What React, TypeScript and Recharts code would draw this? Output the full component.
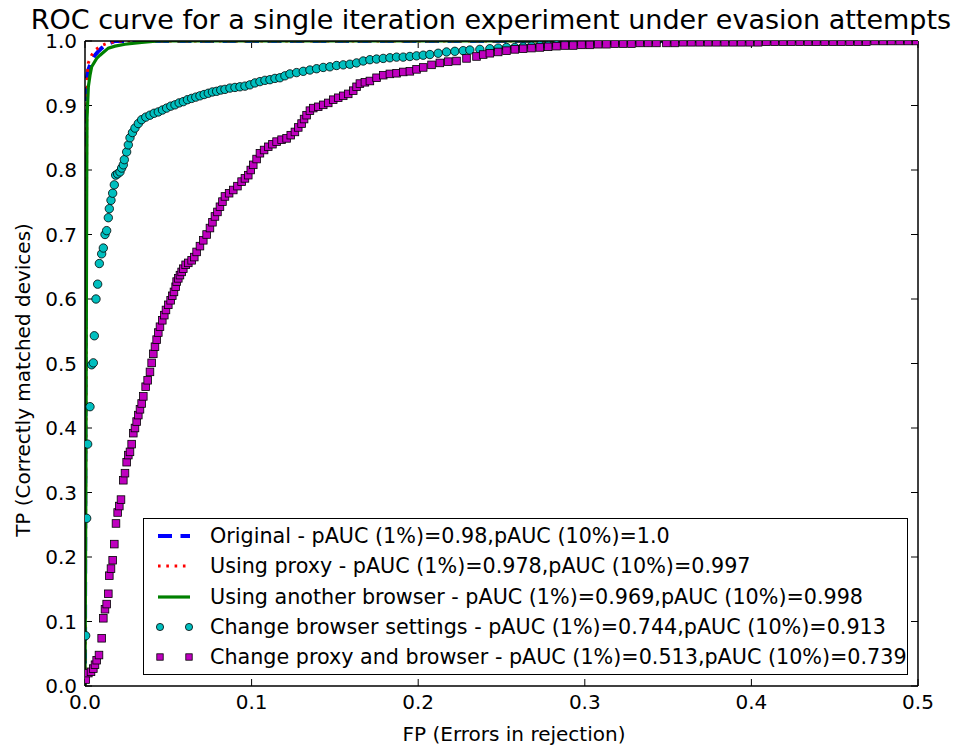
import React from 'react';
import { ComposedChart, Line, Scatter, XAxis, YAxis, CartesianGrid, ReferenceLine } from 'recharts';

const FONT = '"DejaVu Sans", sans-serif';

const titleText = 'ROC curve for a single iteration experiment under evasion attempts';
const xLabelText = 'FP (Errors in rejection)';
const yLabelText = 'TP (Correctly matched devices)';

const xTicks = [0, 0.1, 0.2, 0.3, 0.4, 0.5];
const yTicks = [0, 0.1, 0.2, 0.3, 0.4, 0.5, 0.6, 0.7, 0.8, 0.9, 1.0];

const seriesNames = [
  'Original - pAUC (1%)=0.98,pAUC (10%)=1.0',
  'Using proxy - pAUC (1%)=0.978,pAUC (10%)=0.997',
  'Using another browser - pAUC (1%)=0.969,pAUC (10%)=0.998',
  'Change browser settings - pAUC (1%)=0.744,pAUC (10%)=0.913',
  'Change proxy and browser - pAUC (1%)=0.513,pAUC (10%)=0.739',
];

const originalPts: [number, number][] = [
  [0, 0], [0.0003, 0.6], [0.0006, 0.88], [0.001, 0.94], [0.002, 0.955], [0.004, 0.97],
  [0.006, 0.978], [0.008, 0.984], [0.010, 0.989], [0.012, 0.993], [0.015, 0.997],
  [0.018, 1.0], [0.5, 1.0],
];

const proxyPts: [number, number][] = [
  [0, 0], [0.0004, 0.3], [0.0008, 0.6], [0.001, 0.88], [0.0015, 0.95], [0.002, 0.966],
  [0.004, 0.978], [0.006, 0.986], [0.010, 0.993], [0.014, 0.997], [0.02, 1.0], [0.5, 1.0],
];

const anotherBrowserPts: [number, number][] = [
  [0, 0], [0.0005, 0.3], [0.001, 0.75], [0.0012, 0.88], [0.002, 0.929], [0.003, 0.947],
  [0.004, 0.96], [0.007, 0.973], [0.009, 0.978], [0.014, 0.989], [0.018, 0.992],
  [0.024, 0.995], [0.034, 0.998], [0.044, 1.0], [0.5, 1.0],
];

const settingsPts: [number, number][] = [
  [0.0004, 0.078], [0.001, 0.26], [0.0016, 0.375], [0.003, 0.433], [0.004, 0.498], [0.005, 0.501],
  [0.0056, 0.543], [0.0066, 0.6], [0.0076, 0.623], [0.0086, 0.655], [0.010, 0.67], [0.011, 0.679],
  [0.012, 0.70], [0.013, 0.706], [0.014, 0.726], [0.0146, 0.74], [0.0156, 0.753], [0.0166, 0.764],
  [0.0176, 0.777], [0.0184, 0.792], [0.0196, 0.794], [0.021, 0.797], [0.022, 0.803], [0.023, 0.808],
  [0.0236, 0.816], [0.025, 0.828], [0.026, 0.839], [0.027, 0.85], [0.0285, 0.858], [0.030, 0.865],
  [0.032, 0.872], [0.034, 0.878], [0.0365, 0.882], [0.039, 0.885], [0.0415, 0.888], [0.044, 0.89],
  [0.0465, 0.893], [0.049, 0.896], [0.0515, 0.899], [0.054, 0.901], [0.0565, 0.904], [0.059, 0.906],
  [0.0615, 0.909], [0.064, 0.911], [0.0665, 0.913], [0.069, 0.915], [0.0715, 0.917], [0.074, 0.919],
  [0.0765, 0.921], [0.079, 0.922], [0.0815, 0.924], [0.084, 0.925], [0.087, 0.927], [0.09, 0.928],
  [0.093, 0.929], [0.096, 0.93], [0.099, 0.932], [0.102, 0.935], [0.105, 0.937], [0.108, 0.939],
  [0.111, 0.94], [0.114, 0.942], [0.117, 0.943], [0.12, 0.946], [0.123, 0.949], [0.127, 0.951],
  [0.131, 0.953], [0.135, 0.955], [0.139, 0.957], [0.143, 0.959], [0.147, 0.96], [0.151, 0.962],
  [0.155, 0.963], [0.159, 0.964], [0.163, 0.966], [0.167, 0.969], [0.171, 0.971], [0.175, 0.972],
  [0.179, 0.973], [0.183, 0.974], [0.187, 0.975], [0.191, 0.975], [0.195, 0.976], [0.199, 0.977],
  [0.203, 0.978], [0.207, 0.979], [0.212, 0.981], [0.217, 0.983], [0.222, 0.984], [0.227, 0.985],
  [0.231, 0.986], [0.237, 0.987], [0.243, 0.988], [0.248, 0.989], [0.253, 0.99], [0.258, 0.99],
  [0.263, 0.991], [0.268, 0.992], [0.273, 0.993], [0.278, 0.993], [0.283, 0.994], [0.288, 0.995],
  [0.293, 0.995], [0.298, 0.996], [0.303, 0.997], [0.308, 0.997], [0.313, 0.997], [0.318, 0.998],
  [0.323, 0.998], [0.328, 0.998], [0.333, 0.999], [0.338, 0.999], [0.343, 0.999], [0.349, 0.999],
];

const proxyBrowserPts: [number, number][] = [
  [0.0004, 0.01], [0.002, 0.02], [0.0036, 0.022], [0.005, 0.027], [0.006, 0.033], [0.007, 0.04],
  [0.0084, 0.048], [0.010, 0.074], [0.011, 0.105], [0.012, 0.119], [0.013, 0.127], [0.014, 0.143],
  [0.0146, 0.171], [0.0156, 0.182], [0.0166, 0.195], [0.0176, 0.22], [0.0186, 0.252], [0.0196, 0.269],
  [0.0206, 0.279], [0.0216, 0.289], [0.023, 0.319], [0.024, 0.33], [0.025, 0.347], [0.026, 0.358],
  [0.027, 0.363], [0.028, 0.375], [0.029, 0.392], [0.03, 0.4], [0.031, 0.41], [0.032, 0.42],
  [0.033, 0.429], [0.034, 0.438], [0.035, 0.449], [0.0364, 0.464], [0.0376, 0.474], [0.039, 0.487],
  [0.04, 0.501], [0.041, 0.515], [0.042, 0.526], [0.043, 0.537], [0.044, 0.548], [0.045, 0.557],
  [0.0464, 0.567], [0.0476, 0.575], [0.0486, 0.583], [0.05, 0.591], [0.0514, 0.598], [0.0524, 0.605],
  [0.0534, 0.611], [0.0544, 0.619], [0.055, 0.627], [0.056, 0.632], [0.057, 0.637], [0.058, 0.642],
  [0.059, 0.647], [0.0604, 0.653], [0.062, 0.656], [0.064, 0.66], [0.0656, 0.665], [0.067, 0.673],
  [0.069, 0.682], [0.071, 0.691], [0.073, 0.7], [0.075, 0.71], [0.0765, 0.719], [0.078, 0.728],
  [0.0795, 0.735], [0.081, 0.743], [0.0825, 0.751], [0.084, 0.759], [0.0865, 0.764], [0.089, 0.769],
  [0.0915, 0.775], [0.094, 0.782], [0.096, 0.787], [0.098, 0.792], [0.0995, 0.8], [0.101, 0.808],
  [0.103, 0.817], [0.105, 0.826], [0.1075, 0.831], [0.11, 0.836], [0.1125, 0.84], [0.115, 0.844],
  [0.118, 0.847], [0.121, 0.849], [0.1235, 0.854], [0.126, 0.859], [0.128, 0.866], [0.13, 0.872],
  [0.1315, 0.879], [0.133, 0.885], [0.135, 0.892], [0.137, 0.896], [0.14, 0.898], [0.143, 0.901],
  [0.146, 0.904], [0.149, 0.909], [0.152, 0.912], [0.155, 0.915], [0.158, 0.918], [0.161, 0.923],
  [0.163, 0.929], [0.165, 0.934], [0.168, 0.936], [0.171, 0.938], [0.175, 0.943], [0.179, 0.947],
  [0.183, 0.949], [0.187, 0.95], [0.191, 0.952], [0.195, 0.953], [0.199, 0.956], [0.203, 0.959],
  [0.208, 0.963], [0.213, 0.966], [0.218, 0.968], [0.223, 0.969], [0.229, 0.973], [0.235, 0.976],
  [0.239, 0.979], [0.243, 0.981], [0.248, 0.983], [0.253, 0.985], [0.258, 0.987], [0.263, 0.988],
  [0.268, 0.989], [0.273, 0.99], [0.278, 0.991], [0.283, 0.992], [0.288, 0.993], [0.293, 0.993],
  [0.298, 0.994], [0.303, 0.994], [0.308, 0.995], [0.313, 0.995], [0.318, 0.996], [0.323, 0.996],
  [0.328, 0.996], [0.333, 0.997], [0.338, 0.997], [0.343, 0.997], [0.349, 0.997], [0.354, 0.997],
  [0.359, 0.998], [0.364, 0.998], [0.369, 0.998], [0.374, 0.998], [0.379, 0.998], [0.384, 0.998],
  [0.389, 0.998], [0.394, 0.998], [0.399, 0.998], [0.404, 0.998], [0.409, 0.999], [0.414, 0.999],
  [0.419, 0.999], [0.424, 0.999], [0.429, 0.999], [0.434, 0.999], [0.439, 0.999], [0.444, 0.999],
  [0.449, 0.999], [0.454, 0.999], [0.459, 0.999], [0.464, 0.999], [0.469, 0.999], [0.474, 1.0],
  [0.479, 1.0], [0.484, 1.0], [0.489, 1.0], [0.494, 1.0], [0.499, 1.0],
];

const toRows = (pts: [number, number][]) => pts.map(([x, y]) => ({ x, y }));

const BLUE = '#0000ff';
const RED = '#ff0000';
const GREEN = '#008000';
const CYAN = '#00bfbf';
const MAGENTA = '#bf00bf';

// layout constants (pixels, chart-local)
const CHART_W = 957;
const CHART_H = 739;
const M_TOP = 33;
const M_RIGHT = 47;
const Y_AXIS_W = 77;
const X_AXIS_H = 61;
const PLOT_W = CHART_W - M_RIGHT - Y_AXIS_W;
const PLOT_H = CHART_H - M_TOP - X_AXIS_H;
const TICK_LEN = 7;

const fmt = (v: number) => v.toFixed(1);

const CircleMarker = (props: any) => {
  const { cx, cy } = props;
  if (cx == null || cy == null) return <g />;
  return <circle cx={cx} cy={cy} r={4.2} fill={CYAN} stroke="#000" strokeWidth={0.8} />;
};

const SquareMarker = (props: any) => {
  const { cx, cy } = props;
  if (cx == null || cy == null) return <g />;
  return <rect x={cx - 3.8} y={cy - 3.8} width={7.6} height={7.6} fill={MAGENTA} stroke="#000" strokeWidth={0.8} />;
};

const tickStyle = { fill: '#000', fontSize: 20, fontFamily: FONT };

const LegendHandle = ({ i }: { i: number }) => {
  return (
    <svg width={50} height={20} style={{ position: 'absolute', left: 10, top: 5 }}>
      {i === 0 && <line x1={4} y1={10} x2={36} y2={10} stroke={BLUE} strokeWidth={4} strokeDasharray="14 8.5" />}
      {i === 1 && <line x1={4} y1={10} x2={36} y2={10} stroke={RED} strokeWidth={3} strokeDasharray="2.6 5.7" />}
      {i === 2 && <line x1={4} y1={10} x2={36} y2={10} stroke={GREEN} strokeWidth={3.2} />}
      {i === 3 && (
        <g>
          <circle cx={6} cy={10} r={3.6} fill={CYAN} stroke="#000" strokeWidth={0.8} />
          <circle cx={35} cy={10} r={3.6} fill={CYAN} stroke="#000" strokeWidth={0.8} />
        </g>
      )}
      {i === 4 && (
        <g>
          <rect x={2.8} y={6.8} width={6.4} height={6.4} fill={MAGENTA} stroke="#000" strokeWidth={0.8} />
          <rect x={31.8} y={6.8} width={6.4} height={6.4} fill={MAGENTA} stroke="#000" strokeWidth={0.8} />
        </g>
      )}
    </svg>
  );
};

export default function App() {
  return (
    <div style={{ position: 'relative', width: CHART_W, height: CHART_H, fontFamily: FONT, color: '#000' }}>
      <ComposedChart width={CHART_W} height={CHART_H} margin={{ top: M_TOP, right: M_RIGHT, bottom: 0, left: 0 }}>
        <XAxis
          xAxisId="x" dataKey="x" type="number" domain={[0, 0.5]} ticks={xTicks} allowDataOverflow
          height={X_AXIS_H} tickSize={0} tickMargin={9} tickFormatter={fmt} tick={tickStyle}
          axisLine={{ stroke: '#000', strokeWidth: 1.5 }} interval={0}
        />
        <YAxis
          yAxisId="y" dataKey="y" type="number" domain={[0, 1]} ticks={yTicks} allowDataOverflow
          width={Y_AXIS_W} tickSize={0} tickMargin={8} tickFormatter={fmt} tick={tickStyle}
          axisLine={{ stroke: '#000', strokeWidth: 1.5 }} interval={0}
        />
        {/* inward tick marks on all four sides */}
        <CartesianGrid
          xAxisId="x" yAxisId="y" vertical={false} horizontal
          stroke="#000" strokeWidth={1}
          strokeDasharray={`${TICK_LEN} ${PLOT_W - 2 * TICK_LEN} ${TICK_LEN}`}
        />
        <CartesianGrid
          xAxisId="x" yAxisId="y" horizontal={false} vertical
          stroke="#000" strokeWidth={1}
          strokeDasharray={`${TICK_LEN} ${PLOT_H - 2 * TICK_LEN} ${TICK_LEN}`}
        />
        <Line
          xAxisId="x" yAxisId="y" data={toRows(originalPts)} dataKey="y" type="linear" stroke={BLUE}
          strokeWidth={4} strokeDasharray="14 8.5" dot={false} activeDot={false} isAnimationActive={false}
        />
        <Line
          xAxisId="x" yAxisId="y" data={toRows(proxyPts)} dataKey="y" type="linear" stroke={RED}
          strokeWidth={3} strokeDasharray="2.6 5.7" dot={false} activeDot={false} isAnimationActive={false}
        />
        <Line
          xAxisId="x" yAxisId="y" data={toRows(anotherBrowserPts)} dataKey="y" type="linear" stroke={GREEN}
          strokeWidth={3.2} dot={false} activeDot={false} isAnimationActive={false}
        />
        <Scatter
          xAxisId="x" yAxisId="y" data={toRows(settingsPts)} dataKey="y" shape={CircleMarker} isAnimationActive={false}
        />
        <Scatter
          xAxisId="x" yAxisId="y" data={toRows(proxyBrowserPts)} dataKey="y" shape={SquareMarker} isAnimationActive={false}
        />
        {/* top and right spines */}
        <ReferenceLine xAxisId="x" yAxisId="y" y={1} stroke="#000" strokeWidth={1.5} />
        <ReferenceLine xAxisId="x" yAxisId="y" x={0.5} stroke="#000" strokeWidth={1.5} />
      </ComposedChart>

      <div style={{ position: 'absolute', left: 483 - 600, width: 1200, top: 0, height: 24, textAlign: 'center', fontSize: 27, lineHeight: '24px', whiteSpace: 'nowrap' }}>
        {titleText}
      </div>
      <div style={{ position: 'absolute', left: 506 - 300, width: 600, top: 714, textAlign: 'center', fontSize: 20, lineHeight: '24px', whiteSpace: 'nowrap' }}>
        {xLabelText}
      </div>
      <div style={{ position: 'absolute', left: 15 - 250, top: 372 - 12, width: 500, height: 24, textAlign: 'center', fontSize: 20, lineHeight: '24px', whiteSpace: 'nowrap', transform: 'rotate(-90deg)' }}>
        {yLabelText}
      </div>

      <div style={{ position: 'absolute', left: 135, top: 510, width: 765, height: 157, border: '1.5px solid #000', boxSizing: 'border-box', background: '#fff' }}>
        {seriesNames.map((name, i) => (
          <div key={name} style={{ position: 'absolute', left: 0, top: 2 + i * 30.3, height: 30, width: '100%' }}>
            <LegendHandle i={i} />
            <div style={{ position: 'absolute', left: 66, top: 2, fontSize: 20.7, lineHeight: '26px', whiteSpace: 'nowrap' }}>{name}</div>
          </div>
        ))}
      </div>
    </div>
  );
}
